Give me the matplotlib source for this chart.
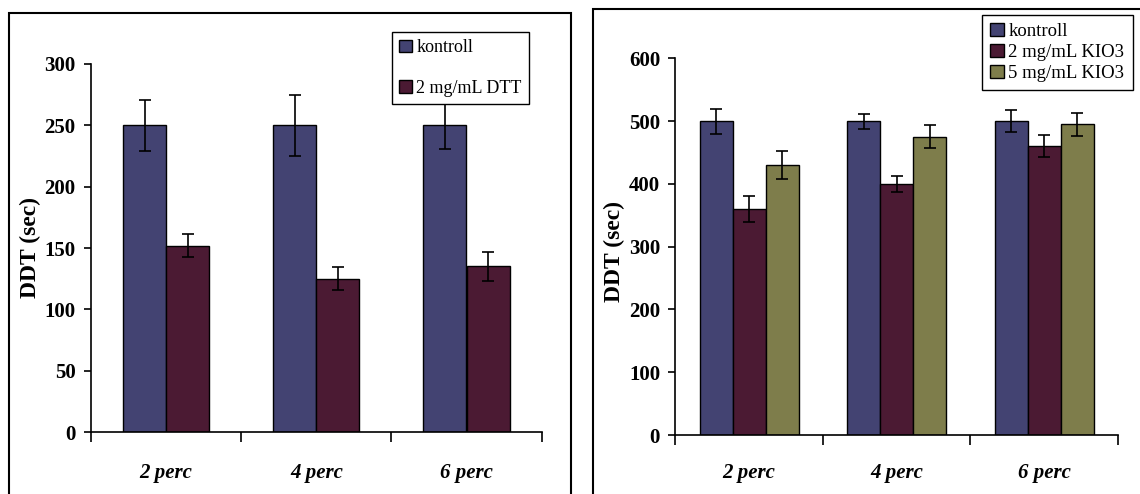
import numpy as np
import matplotlib.pyplot as plt
from matplotlib.patches import Rectangle

categories = ['2 perc', '4 perc', '6 perc']

# left panel: DTT
kontroll_dtt = [250, 250, 250]
kontroll_dtt_err = [21, 25, 19]
dtt = [152, 125, 135]
dtt_err = [9.5, 9.5, 12]

# right panel: KIO3
kontroll_kio = [500, 500, 500]
kontroll_kio_err = [20, 12, 18]
kio3_2 = [360, 400, 460]
kio3_2_err = [20, 13, 18]
kio3_5 = [430, 475, 495]
kio3_5_err = [23, 18, 18]

c_blue = '#434372'
c_wine = '#4b1a33'
c_olive = '#7e7d4b'

plt.rcParams['font.family'] = ['Liberation Serif', 'DejaVu Serif']

W, H = 1140, 494
fig = plt.figure(figsize=(W / 100, H / 100), dpi=100)

# outer frames around each panel
fig.add_artist(Rectangle((8.7 / W, -0.05), (571 - 8.7) / W, 0.05 + (H - 13.3) / H,
                         transform=fig.transFigure, fill=False, ec='black', lw=1.5))
fig.add_artist(Rectangle((593 / W, -0.05), 0.5, 0.05 + (H - 9) / H,
                         transform=fig.transFigure, fill=False, ec='black', lw=1.5))


def style_axes(ax, ymax, ystep, label_pad):
    x = np.arange(len(categories))
    ax.set_xlim(0, len(categories))
    ax.set_ylim(0, ymax)
    ax.set_yticks(np.arange(0, ymax + 1, ystep))
    ax.set_xticks(np.arange(len(categories) + 1))
    ax.set_xticklabels([])
    ax.set_xticks(x + 0.5, minor=True)
    ax.set_xticklabels(categories, minor=True, fontweight='bold', style='italic', fontsize=15)
    ax.tick_params(axis='x', which='minor', length=0, pad=label_pad)
    ax.tick_params(axis='x', which='major', direction='out', length=7, width=1.2)
    ax.tick_params(axis='y', direction='out', length=5, width=1.2, pad=6, labelsize=15)
    for t in ax.get_yticklabels():
        t.set_fontweight('bold')
    for s in ['top', 'right']:
        ax.spines[s].set_visible(False)
    for s in ['left', 'bottom']:
        ax.spines[s].set_linewidth(1.2)
    ax.set_ylabel('DDT (sec)', fontweight='bold', fontsize=17)


err_kw = dict(ecolor='black', capsize=4, elinewidth=1.2, capthick=1.2)

# left panel
ax1 = fig.add_axes([91 / W, (H - 432) / H, (541.6 - 91) / W, (432 - 64) / H])
x = np.arange(len(categories)) + 0.5
w = 0.287
ax1.bar(x - w / 2, kontroll_dtt, w, yerr=kontroll_dtt_err, color=c_blue, edgecolor='black',
        linewidth=1, label='kontroll', error_kw=err_kw)
ax1.bar(x + w / 2, dtt, w, yerr=dtt_err, color=c_wine, edgecolor='black',
        linewidth=1, label='2 mg/mL DTT', error_kw=err_kw)
style_axes(ax1, 300, 50, 22)
ax1.yaxis.set_label_coords(-0.11, 0.5)
leg1 = ax1.legend(loc='upper left', bbox_to_anchor=(392 / W, (H - 32) / H),
                  bbox_transform=fig.transFigure, borderaxespad=0, fontsize=13,
                  frameon=True, fancybox=False, framealpha=1, edgecolor='black',
                  handlelength=0.7, handleheight=0.7, handletextpad=0.25,
                  labelspacing=1.3, borderpad=0.4)
leg1.get_frame().set_linewidth(1.0)

# right panel
ax2 = fig.add_axes([675.4 / W, (H - 435) / H, (1117.8 - 675.4) / W, (435 - 58.3) / H])
w = 0.224
ax2.bar(x - w, kontroll_kio, w, yerr=kontroll_kio_err, color=c_blue, edgecolor='black',
        linewidth=1, label='kontroll', error_kw=err_kw)
ax2.bar(x, kio3_2, w, yerr=kio3_2_err, color=c_wine, edgecolor='black',
        linewidth=1, label='2 mg/mL KIO3', error_kw=err_kw)
ax2.bar(x + w, kio3_5, w, yerr=kio3_5_err, color=c_olive, edgecolor='black',
        linewidth=1, label='5 mg/mL KIO3', error_kw=err_kw)
style_axes(ax2, 600, 100, 20)
ax2.yaxis.set_label_coords(-0.113, 0.487)
leg2 = ax2.legend(loc='upper left', bbox_to_anchor=(982 / W, (H - 14.7) / H),
                  bbox_transform=fig.transFigure, borderaxespad=0, fontsize=13.5,
                  frameon=True, fancybox=False, framealpha=1, edgecolor='black',
                  handlelength=0.7, handleheight=0.7, handletextpad=0.25,
                  labelspacing=0.2, borderpad=0.45)
leg2.get_frame().set_linewidth(1.0)

fig.savefig('out.png', dpi=100)
